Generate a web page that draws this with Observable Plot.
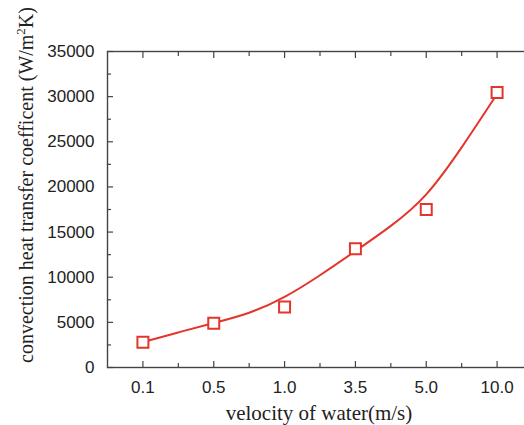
<!DOCTYPE html>
<html>
<head>
<meta charset="utf-8">
<script src="https://cdn.jsdelivr.net/npm/d3@7"></script>
<script src="https://cdn.jsdelivr.net/npm/@observablehq/plot@0.6"></script>
<style>
  body { margin: 0; background: #fff; }
  #wrap { width: 524px; height: 425px; overflow: hidden; position: relative; }
  #wrap svg { max-width: none !important; width: 532px; height: 425px; display: block; }
</style>
</head>
<body>
<div id="wrap"></div>
<script>
// categories (velocity of water, m/s)
const categories = ["0.1", "0.5", "1.0", "3.5", "5.0", "10.0"];
// measured convection heat transfer coefficient (W/m2K)
const hValues = [2800, 4900, 6700, 13150, 17500, 30450];
// fitted smooth curve (category index, value)
const curveIdx = [0, 0.5, 1, 1.5, 2, 2.5, 3, 3.5, 4, 4.5, 5];
const curveVal = [2800, 3900, 4940, 5940, 7710, 10180, 12900, 15600, 18800, 24300, 30300];
// y ticks
const yTicks = [0, 5000, 10000, 15000, 20000, 25000, 30000, 35000];
const yMinor = [2500, 7500, 12500, 17500, 22500, 27500, 32500];

const points = categories.map((c, i) => ({i, c, v: hValues[i]}));
const curve = curveIdx.map((x, k) => ({x, v: curveVal[k]}));
const xMajor = categories.map((c, i) => i);
const xMinor = categories.map((c, i) => i + 0.5);

const red = "#e4352b";
const axisColor = "#444";

const plot = Plot.plot({
  width: 532,
  height: 425,
  marginLeft: 107,
  marginRight: 0,
  marginTop: 51,
  marginBottom: 58,
  style: {fontFamily: "'Liberation Sans', Arial, sans-serif", fontSize: "17px", color: "#222", background: "#fff"},
  x: {domain: [-0.5, 5.5]},
  y: {domain: [0, 35000]},
  marks: [
    Plot.frame({stroke: axisColor, strokeWidth: 1.4}),
    // y labels
    Plot.axisY({ticks: yTicks, tickSize: 0, tickPadding: 13, tickFormat: d => String(d), fontSize: 17, label: null}),
    Plot.axisY({ticks: yTicks, tickSize: -6, text: null, stroke: axisColor, strokeWidth: 1.2, label: null}),
    Plot.axisY({ticks: yMinor, tickSize: -4, text: null, stroke: axisColor, strokeWidth: 1.2, label: null}),
    // x labels
    Plot.axisX({ticks: xMajor, tickSize: 0, tickPadding: 13, tickFormat: i => categories[i], fontSize: 17, label: null}),
    Plot.axisX({ticks: xMajor, tickSize: -6, text: null, stroke: axisColor, strokeWidth: 1.2, label: null}),
    Plot.axisX({ticks: xMinor, tickSize: -4, text: null, stroke: axisColor, strokeWidth: 1.2, label: null}),
    Plot.axisX({anchor: "top", ticks: xMajor, tickSize: -6, text: null, stroke: axisColor, strokeWidth: 1.2, label: null}),
    Plot.axisX({anchor: "top", ticks: xMinor, tickSize: -4, text: null, stroke: axisColor, strokeWidth: 1.2, label: null}),
    Plot.line(curve, {x: "x", y: "v", curve: "basis", stroke: red, strokeWidth: 2}),
    Plot.dot(points, {x: "i", y: "v", symbol: "square", r: 6.2, stroke: red, fill: "#fff", strokeWidth: 2})
  ]
});

const svg = d3.select(plot);
// x axis title
svg.append("text")
  .attr("x", 319).attr("y", 420)
  .attr("text-anchor", "middle")
  .attr("font-family", "'Liberation Serif', 'Times New Roman', serif")
  .attr("font-size", 21)
  .attr("fill", "#222")
  .text("velocity of water(m/s)");
// y axis title with superscript
const yt = svg.append("text")
  .attr("transform", "translate(33,185) rotate(-90)")
  .attr("text-anchor", "middle")
  .attr("font-family", "'Liberation Serif', 'Times New Roman', serif")
  .attr("font-size", 20)
  .attr("fill", "#222");
yt.append("tspan").text("convection heat transfer coefficent (W/m");
yt.append("tspan").attr("dy", -8).attr("font-size", 13).text("2");
yt.append("tspan").attr("dy", 8).text("K)");

document.getElementById("wrap").appendChild(plot);
</script>
</body>
</html>
